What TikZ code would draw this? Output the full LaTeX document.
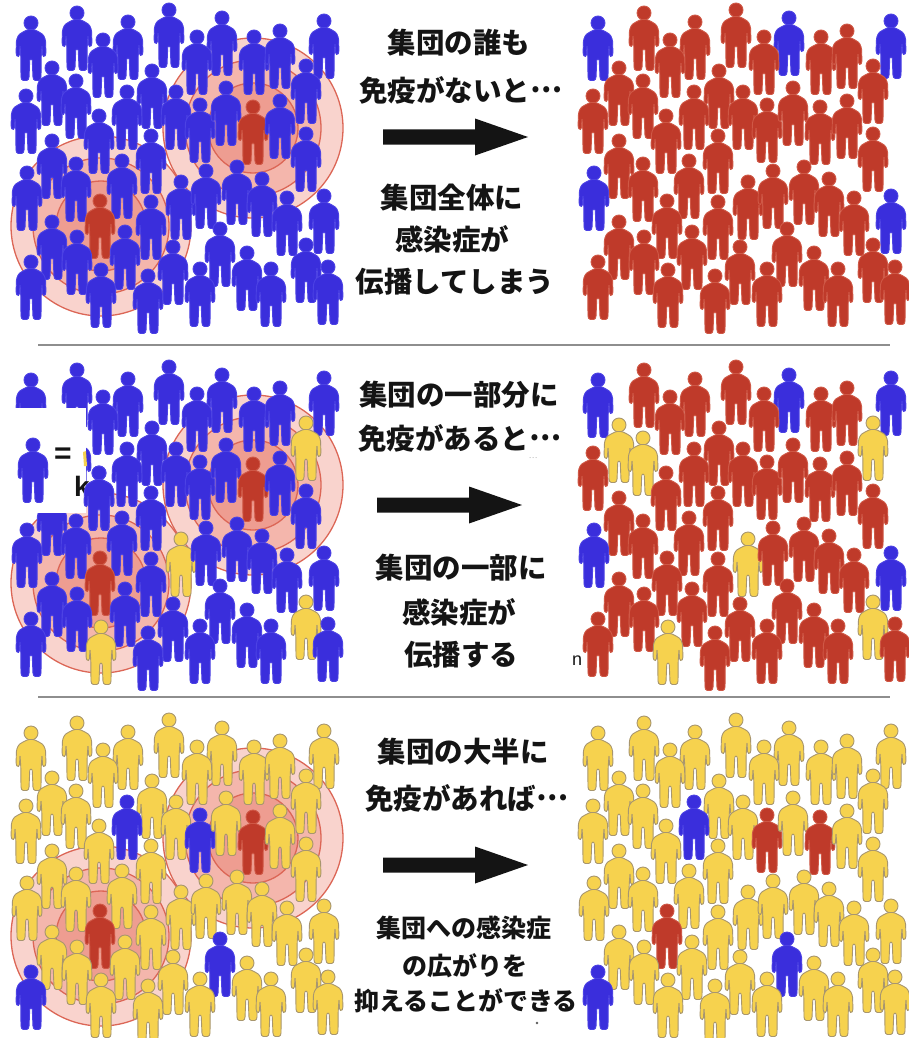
\documentclass[tikz,border=0pt]{standalone}
\usepackage{fontspec}
\newfontfamily\jp{Noto Sans CJK JP}
\setsansfont{Liberation Sans}

\definecolor{bluef}{HTML}{3A2EDC}
\definecolor{blued}{HTML}{4C42E4}
\definecolor{redf}{HTML}{BF3A2A}
\definecolor{redd}{HTML}{CF5846}
\definecolor{yelf}{HTML}{F6D24E}
\definecolor{yeld}{HTML}{A8966E}
\definecolor{ringA}{HTML}{F9D3CD}
\definecolor{ringB}{HTML}{F4B6AC}
\definecolor{ringC}{HTML}{EE9D91}
\definecolor{ringline}{HTML}{DC6656}
\definecolor{sepline}{HTML}{8E8E8E}
\definecolor{ink}{HTML}{141414}

% colour of the next figure: \pf fill, \pd outline
\newcommand\usecol[1]{\def\pf{#1f}\def\pd{#1d}}
\makeatletter
% #1 index, #2 base colour, #3 red set, #4 yellow set, #5 blue set
\newcommand\setpcol[5]{%
  \usecol{#2}%
  \edef\pc@tmp{\noexpand\in@{,#1,}{,#3,}}\pc@tmp\ifin@\usecol{red}\fi
  \edef\pc@tmp{\noexpand\in@{,#1,}{,#4,}}\pc@tmp\ifin@\usecol{yel}\fi
  \edef\pc@tmp{\noexpand\in@{,#1,}{,#5,}}\pc@tmp\ifin@\usecol{blue}\fi
}
\makeatother

% head centres of the crowd (one panel side)
\def\crowd{31/23, 77/13, 128/22, 169/10, 222/18, 324/21, 103/40, 197/37, 254/37, 280/31,
  52/68, 76/81, 152/71, 306/66, 26/96, 127/92, 176/92, 200/105, 226/88, 253/107,
  280/101, 99/116, 52/141, 151/136, 306/134, 27/173, 76/164, 122/161, 181/182, 206/171,
  237/167, 262/179, 287/198, 324/196, 100/201, 151/202, 52/222, 77/237, 125/232, 220/229,
  173/247, 247/253, 306/245, 31/262, 101/270, 148/276, 200/269, 271/269, 328/267}

\newcommand\ellip{\raisebox{0.3em}{…}}

\tikzset{
  person/.pic={
    \path[fill=\pf, draw=\pd, line width=0.9pt] (0,0) circle (7pt);
    \path[fill=\pf, draw=\pd, line width=0.9pt, rounded corners=1.3pt, line join=round]
      (-3,6.5) -- (3,6.5) -- (9,9.5) -- (12.5,12) -- (14.5,17) -- (15,31) -- (13.5,34)
      -- (11.6,33) -- (11,22) -- (10.2,34) -- (10,55) -- (9,57.5) -- (3,57.5) -- (2,55)
      -- (1.2,36) -- (-1.2,36) -- (-2,55) -- (-3,57.5) -- (-9,57.5) -- (-10,55)
      -- (-10.2,34) -- (-11,22) -- (-11.6,33) -- (-13.5,34) -- (-15,31) -- (-14.5,17)
      -- (-12.5,12) -- (-9,9.5) -- cycle;
  },
  lbl/.style={font={\jp\bfseries\fontsize{28.5pt}{28.5pt}\selectfont}, text=ink, inner sep=0pt},
  lbls/.style={font={\jp\bfseries\fontsize{25pt}{25pt}\selectfont}, text=ink, inner sep=0pt},
  ringfill/.style={draw=ringline, line width=1.3pt},
  sep/.style={draw=sepline, line width=2pt}
}

% #1 dx, #2 dy, #3 base, #4 red set, #5 yellow set, #6 blue set
\newcommand\drawcrowd[6]{%
  \foreach \px/\py [count=\i] in \crowd {
    \setpcol{\i}{#3}{#4}{#5}{#6}
    \pic at (\px+#1,\py+#2) {person};
  }
}
% spreading rings round the two sick people, #1 dy
\newcommand\drawrings[1]{%
  \foreach \cx/\cy in {253/128, 101/226} {
    \path[ringfill, fill=ringA] (\cx,\cy+#1) circle (90pt);
    \path[ringfill, fill=ringB] (\cx,\cy+#1) circle (68pt);
    \path[ringfill, fill=ringC] (\cx,\cy+#1) circle (45pt);
  }
}
% thick block arrow: #1 tail x, #2 tip x, #3 y
\newcommand\blockarrow[3]{%
  \fill[ink] (#1,#3-7.5) -- (#2-53,#3-7.5) -- (#2-53,#3-18.5) -- (#2,#3)
    -- (#2-53,#3+18.5) -- (#2-53,#3+7.5) -- (#1,#3+7.5) -- cycle;
}

\begin{document}
\begin{tikzpicture}[x=1pt,y=-1pt]
\useasboundingbox (0,0) rectangle (909,1038);
\fill[white] (0,0) rectangle (909,1038);

% ---------- panel 1: nobody immune ----------
\drawrings{0}
\drawcrowd{0}{0}{blue}{20,35}{}{}
\drawcrowd{567}{0}{red}{}{}{1,5,6,26,34}
\node[lbl] (t1a) at (459,43) {集団の誰も};
\node[lbl] (t1b) at (461,90) {免疫がないと\ellip};
\blockarrow{383}{528}{137}
\node[lbl] (t1c) at (452,198) {集団全体に};
\node[lbl] (t1d) at (452,239) {感染症が};
\node[lbl] (t1e) at (455,282) {伝播してしまう};

\draw[sep] (38,345) -- (890,345);

% ---------- panel 2: part of the group immune ----------
\drawrings{357}
\drawcrowd{0}{357}{blue}{20,35}{14,29,43,45}{}
% legend remnant in the upper left corner
\fill[white] (0,408) rectangle (86,513);
\usecol{blue}
\pic at (33,445) {person};
\node[font={\sffamily\bfseries\fontsize{30pt}{30pt}\selectfont}, text=ink, inner sep=0pt] (eq) at (63,456) {=};
\fill[yelf] (83,452) -- (86,451) -- (87,466) -- (84,466) -- cycle;
\node[font={\sffamily\bfseries\fontsize{28pt}{28pt}\selectfont}, text=ink, inner sep=0pt] (kk) at (82,486) {k};
\pic at (99,473) {person};
\drawcrowd{567}{357}{red}{}{11,12,14,29,43,45}{1,5,6,26,34}
\node[lbl] (t2a) at (459,395) {集団の一部分に};
\node[lbl] (t2b) at (460,438) {免疫があると\ellip};
\node[font={\jp\fontsize{8pt}{8pt}\selectfont}, text=gray!60, inner sep=0pt] (t2dots) at (533,458) {…};
\blockarrow{377}{522}{505}
\node[lbl] (t2c) at (461,568) {集団の一部に};
\node[lbl] (t2d) at (459,612) {感染症が};
\node[lbl] (t2e) at (461,655) {伝播する};
\node[font={\sffamily\fontsize{18pt}{18pt}\selectfont}, text=ink, inner sep=0pt] (t2n) at (577,661) {n};

\draw[sep] (38,697) -- (890,697);

% ---------- panel 3: most of the group immune ----------
\drawrings{710}
\drawcrowd{0}{710}{yel}{20,35}{}{16,18,40,44}
\drawcrowd{567}{710}{yel}{18,20,35}{}{16,40,44}
\node[lbl] (t3a) at (463,752) {集団の大半に};
\node[lbl] (t3b) at (467,798) {免疫があれば\ellip};
\blockarrow{383}{528}{865}
\node[lbls] (t3c) at (464,928) {集団への感染症};
\node[lbls] (t3d) at (465,966) {の広がりを};
\node[lbls] (t3e) at (466,1001) {抑えることができる};
\fill[ink!70] (537,1023) circle (1.3pt);
\end{tikzpicture}
\end{document}
